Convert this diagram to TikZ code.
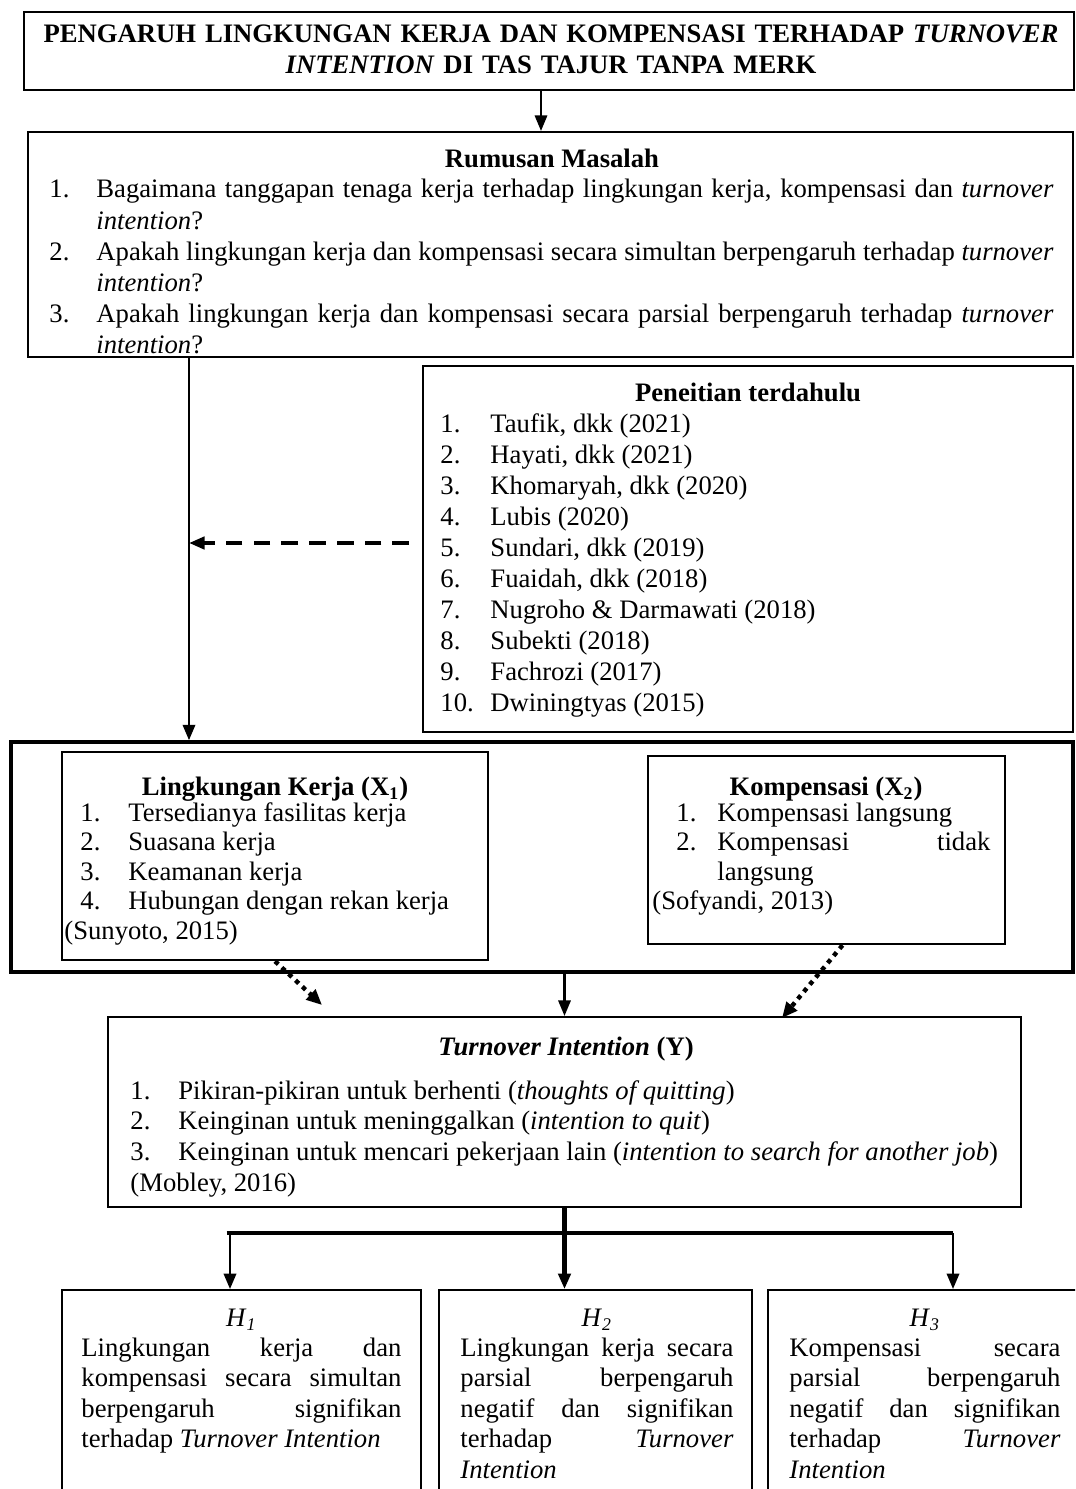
\documentclass[tikz,border=0pt]{standalone}
\usepackage{fontspec}
\setmainfont{Liberation Serif}
\usetikzlibrary{arrows.meta,fit}

\newdimen\px \px=0.45pt
\newdimen\lbl
\newcommand{\butir}[2]{\noindent\hangindent=\lbl\hangafter=1\makebox[\lbl][l]{#1}#2\par}
\hyphenpenalty=10000
\exhyphenpenalty=10000
\tolerance=10000

\tikzset{
  kotak/.style={draw, line width=0.9pt, fit={#1}},
  teks/.style={font={\fontsize{12pt}{13.9pt}\selectfont}, align=justify},
  judulteks/.style={font={\fontsize{12pt}{13.9pt}\selectfont\bfseries}},
  panah/.style={-{Triangle[length=7pt,width=5.5pt]}, line width=1.1pt},
  putus/.style={panah, line width=1.7pt, dash pattern=on 7.5pt off 5pt},
  titik/.style={-{Triangle[length=7pt,width=6pt]}, line width=2pt, dash pattern=on 2pt off 2.2pt},
  tebal/.style={line width=#1},
  tebal/.default=1.7pt
}

\begin{document}
\begin{tikzpicture}[x=0.45pt,y=-0.45pt]
\tikzstyle{every node}+=[inner sep=0pt]
\clip (0,0) rectangle (1075,1489);

% judul
\node[kotak={(24,12) (1074,90)}] (judulbox) {};
\node[judulteks, text width={1040*0.45pt}, align=center, anchor=base] (judul) at (551,43)
  {PENGARUH LINGKUNGAN KERJA DAN KOMPENSASI TERHADAP \textit{TURNOVER}\\ \textit{INTENTION} DI TAS TAJUR TANPA MERK};

% rumusan masalah
\node[kotak={(28,132) (1073,357)}] (rumusan) {};
\node[judulteks, anchor=base] (rm-judul) at (552,168) {Rumusan Masalah};
\node[teks, font={\fontsize{12pt}{13.95pt}\selectfont}, text width={1004*0.45pt}, anchor=base west] (rm-isi) at (49,198) {\lbl=47\px%
  \butir{1.}{Bagaimana tanggapan tenaga kerja terhadap lingkungan kerja, kompensasi dan \textit{turnover}\linebreak \textit{intention}?}%
  \butir{2.}{Apakah lingkungan kerja dan kompensasi secara simultan berpengaruh terhadap \textit{turnover}\linebreak \textit{intention}?}%
  \butir{3.}{Apakah lingkungan kerja dan kompensasi secara parsial berpengaruh terhadap \textit{turnover}\linebreak \textit{intention}?}};

% penelitian terdahulu
\node[kotak={(423,366) (1073,732)}] (penelitian) {};
\node[judulteks, anchor=base] (pt-judul) at (748,401) {Peneitian terdahulu};
\node[teks, font={\fontsize{12pt}{13.95pt}\selectfont}, text width={600*0.45pt}, anchor=base west] (pt-isi) at (440,432) {\lbl=50\px%
  \butir{1.}{Taufik, dkk (2021)}%
  \butir{2.}{Hayati, dkk (2021)}%
  \butir{3.}{Khomaryah, dkk (2020)}%
  \butir{4.}{Lubis (2020)}%
  \butir{5.}{Sundari, dkk (2019)}%
  \butir{6.}{Fuaidah, dkk (2018)}%
  \butir{7.}{Nugroho \& Darmawati (2018)}%
  \butir{8.}{Subekti (2018)}%
  \butir{9.}{Fachrozi (2017)}%
  \butir{10.}{Dwiningtyas (2015)}};

% variabel X
\node[kotak={(11,742) (1073,972)}, line width=1.5pt] (kelompok) {};
\node[kotak={(62,752) (488,960)}, line width=1.1pt] (lingkungan) {};
\node[judulteks, anchor=base] (lk-judul) at (275,795) {Lingkungan Kerja (X\textsubscript{1})};
\node[teks, font={\fontsize{12pt}{13.3pt}\selectfont}, text width={415*0.45pt}, anchor=base west] (lk-isi) at (64,821) {{\leftskip=16\px\lbl=48\px%
  \butir{1.}{Tersedianya fasilitas kerja}%
  \butir{2.}{Suasana kerja}%
  \butir{3.}{Keamanan kerja}%
  \butir{4.}{Hubungan dengan rekan kerja}}%
  \noindent(Sunyoto, 2015)};

\node[kotak={(648,756) (1005,944)}, line width=1.1pt] (kompensasi) {};
\node[judulteks, anchor=base] (kp-judul) at (826,795) {Kompensasi (X\textsubscript{2})};
\node[teks, font={\fontsize{12pt}{13.3pt}\selectfont}, text width={338*0.45pt}, anchor=base west] (kp-isi) at (652,821) {{\leftskip=24\px\lbl=41\px%
  \butir{1.}{Kompensasi langsung}%
  \butir{2.}{Kompensasi tidak\linebreak langsung}}%
  \noindent(Sofyandi, 2013)};

% variabel Y
\node[kotak={(108,1017) (1021,1207)}] (turnover) {};
\node[judulteks, anchor=base] (to-judul) at (566,1055) {\textit{Turnover Intention} (Y)};
\node[teks, text width={920*0.45pt}, anchor=base west] (to-isi) at (130,1099) {\lbl=48\px%
  \butir{1.}{Pikiran-pikiran untuk berhenti (\textit{thoughts of quitting})}%
  \butir{2.}{Keinginan untuk meninggalkan (\textit{intention to quit})}%
  \butir{3.}{Keinginan untuk mencari pekerjaan lain (\textit{intention to search for another job})}%
  \noindent(Mobley, 2016)};

% hipotesis
\node[kotak={(62,1290) (421,1530)}, line width=0.8pt] (h1) {};
\node[kotak={(439,1290) (752,1530)}, line width=0.8pt] (h2) {};
\node[kotak={(768,1290) (1090,1530)}, line width=0.8pt] (h3) {};
\node[teks, font={\fontsize{12pt}{13.7pt}\selectfont}, text width={320*0.45pt}, anchor=base west] (h1-isi) at (81,1326) {\centerline{\textit{H}\textsubscript{\textit{1}}}\par
  Lingkungan kerja dan\linebreak kompensasi secara simultan\linebreak berpengaruh signifikan\linebreak terhadap \textit{Turnover Intention}};
\node[teks, font={\fontsize{12pt}{13.7pt}\selectfont}, text width={273*0.45pt}, anchor=base west] (h2-isi) at (460,1326) {\centerline{\textit{H}\textsubscript{\textit{2}}}\par
  Lingkungan kerja secara\linebreak parsial berpengaruh\linebreak negatif dan signifikan\linebreak terhadap \textit{Turnover}\linebreak \textit{Intention}};
\node[teks, font={\fontsize{12pt}{13.7pt}\selectfont}, text width={271*0.45pt}, anchor=base west] (h3-isi) at (789,1326) {\centerline{\textit{H}\textsubscript{\textit{3}}}\par
  Kompensasi secara\linebreak parsial berpengaruh\linebreak negatif dan signifikan\linebreak terhadap \textit{Turnover}\linebreak \textit{Intention}};

% panah
\coordinate (jalur) at (189,543);
\coordinate (u1) at (322,1005);
\coordinate (u2) at (782,1018);
\coordinate (cabki) at (230,1233);
\coordinate (cabka) at (953,1233);

\draw[panah] ([xshift=-3.6pt]judulbox.south) -- ([xshift=-3.6pt]judulbox.south |- rumusan.north);
\draw[panah, line width=1.3pt] (rumusan.south -| jalur) -- (kelompok.north -| jalur);
\draw[putus, shorten <=5.8pt] (penelitian.west |- jalur) -- (jalur);
\draw[titik] (lingkungan.south) -- (u1);
\draw[titik] ([xshift=7.2pt]kompensasi.south) -- (u2);
\draw[panah] (kelompok.south -| turnover.north) -- (turnover.north);
\draw[tebal=2.2pt] (turnover.south) -- (turnover.south |- cabki);
\draw[tebal] ([xshift=-1.5pt]cabki) -- (cabka);
\draw[panah, line width=1.3pt] (cabki) -- (cabki |- h1.north);
\draw[panah, line width=2.2pt] (turnover.south |- cabki) -- (turnover.south |- h2.north);
\draw[panah, line width=1.3pt] (cabka) -- (cabka |- h3.north);
\end{tikzpicture}
\end{document}
